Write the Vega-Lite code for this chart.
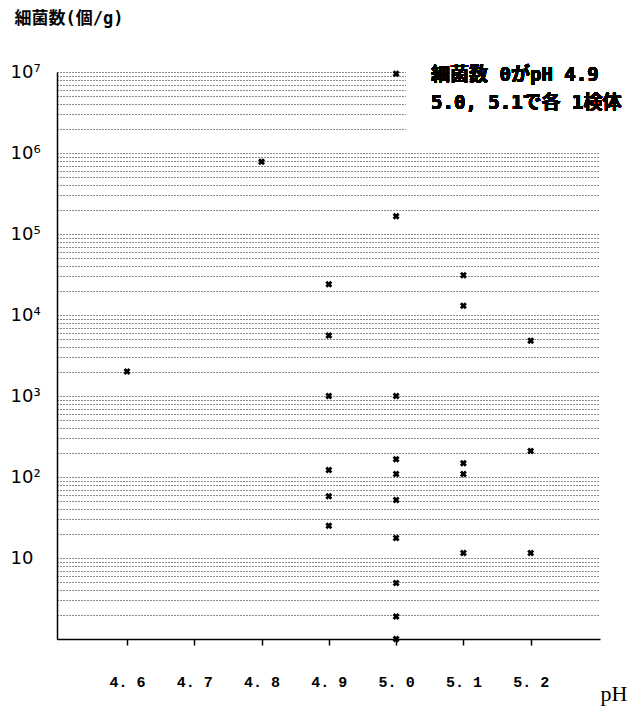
{
  "$schema": "https://vega.github.io/schema/vega-lite/v6.json",
  "width": 543,
  "height": 567,
  "autosize": {"type": "none"},
  "padding": {"left": 57, "top": 72, "right": 31, "bottom": 68},
  "background": "white",
  "config": {"view": {"stroke": null}},
  "data": {
    "values": [
      {"pH": 4.6, "count": 2000},
      {"pH": 4.8, "count": 780000},
      {"pH": 4.9, "count": 24000},
      {"pH": 4.9, "count": 5600},
      {"pH": 4.9, "count": 1000},
      {"pH": 4.9, "count": 122},
      {"pH": 4.9, "count": 58},
      {"pH": 4.9, "count": 25},
      {"pH": 5.0, "count": 9500000},
      {"pH": 5.0, "count": 166000},
      {"pH": 5.0, "count": 1000},
      {"pH": 5.0, "count": 166},
      {"pH": 5.0, "count": 109},
      {"pH": 5.0, "count": 52},
      {"pH": 5.0, "count": 17.6},
      {"pH": 5.0, "count": 4.9},
      {"pH": 5.0, "count": 1.9},
      {"pH": 5.0, "count": 1},
      {"pH": 5.1, "count": 31000},
      {"pH": 5.1, "count": 13000},
      {"pH": 5.1, "count": 148},
      {"pH": 5.1, "count": 109},
      {"pH": 5.1, "count": 11.5},
      {"pH": 5.2, "count": 4800},
      {"pH": 5.2, "count": 210},
      {"pH": 5.2, "count": 11.5}
    ]
  },
  "layer": [
    {
      "mark": {"type": "rect", "color": "white"},
      "encoding": {
        "x": {"datum": 5.015},
        "x2": {"datum": 5.303},
        "y": {"datum": 1120000},
        "y2": {"datum": 10000000}
      }
    },
    {
      "mark": {"type": "point", "shape": "cross", "angle": 45, "filled": true, "color": "black", "size": 50, "opacity": 1},
      "encoding": {
        "x": {
          "field": "pH",
          "type": "quantitative",
          "scale": {"domain": [4.496, 5.303], "nice": false, "zero": false},
          "axis": {
            "values": [4.6, 4.7, 4.8, 4.9, 5.0, 5.1, 5.2],
            "format": ".1f",
            "labelExpr": "replace(datum.label, '.', '. ')",
            "grid": false,
            "ticks": true,
            "tickSize": 6,
            "tickColor": "#000000",
            "tickWidth": 1.5,
            "tickOpacity": 1,
            "domainColor": "black",
            "domainWidth": 1.5,
            "labelFont": "Liberation Mono",
            "labelFontSize": 15,
            "labelFontWeight": "bold",
            "labelColor": "black",
            "labelPadding": 29,
            "title": "pH",
            "titleFont": "Liberation Serif",
            "titleFontSize": 22,
            "titleFontWeight": "normal",
            "titleColor": "black",
            "titleAlign": "left",
            "titleBaseline": "alphabetic",
            "titleX": 543,
            "titleY": 61
          }
        },
        "y": {
          "field": "count",
          "type": "quantitative",
          "scale": {"type": "log", "domain": [1, 10000000], "nice": false},
          "axis": {
            "values": [1,2,3,4,5,6,7,8,9,10,20,30,40,50,60,70,80,90,100,200,300,400,500,600,700,800,900,1000,2000,3000,4000,5000,6000,7000,8000,9000,10000,20000,30000,40000,50000,60000,70000,80000,90000,100000,200000,300000,400000,500000,600000,700000,800000,900000,1000000,2000000,3000000,4000000,5000000,6000000,7000000,8000000,9000000,10000000],
            "labelExpr": "datum.value == 10 ? '10' : datum.value == 100 ? '10²' : datum.value == 1000 ? '10³' : datum.value == 10000 ? '10⁴' : datum.value == 100000 ? '10⁵' : datum.value == 1000000 ? '10⁶' : datum.value == 10000000 ? '10⁷' : ''",
            "grid": true,
            "gridDash": [1, 2],
            "gridColor": "#000",
            "gridWidth": 1,
            "gridOpacity": 0.9,
            "ticks": false,
            "domainColor": "black",
            "domainWidth": 1.5,
            "labelFont": "DejaVu Sans",
            "labelFontSize": 18,
            "labelColor": "black",
            "labelAlign": "left",
            "labelPadding": 47,
            "labelOverlap": false,
            "labelBound": false,
            "title": "細菌数(個/g)",
            "titleAngle": 0,
            "titleAlign": "left",
            "titleBaseline": "top",
            "titleX": -43,
            "titleY": -62,
            "titleFont": "DejaVu Sans Mono, Noto Sans CJK JP",
            "titleFontSize": 17,
            "titleFontWeight": "bold",
            "titleColor": "black"
          }
        }
      }
    },
    {
      "mark": {
        "type": "text",
        "text": ["細菌数 0がpH 4.9", "5.0, 5.1で各 1検体"],
        "align": "left",
        "baseline": "middle",
        "font": "DejaVu Sans Mono, Noto Sans CJK JP",
        "fontSize": 19,
        "fontWeight": "bold",
        "lineHeight": 28,
        "color": "black"
      },
      "encoding": {
        "x": {"datum": 5.052},
        "y": {"datum": 9200000}
      }
    }
  ]
}
